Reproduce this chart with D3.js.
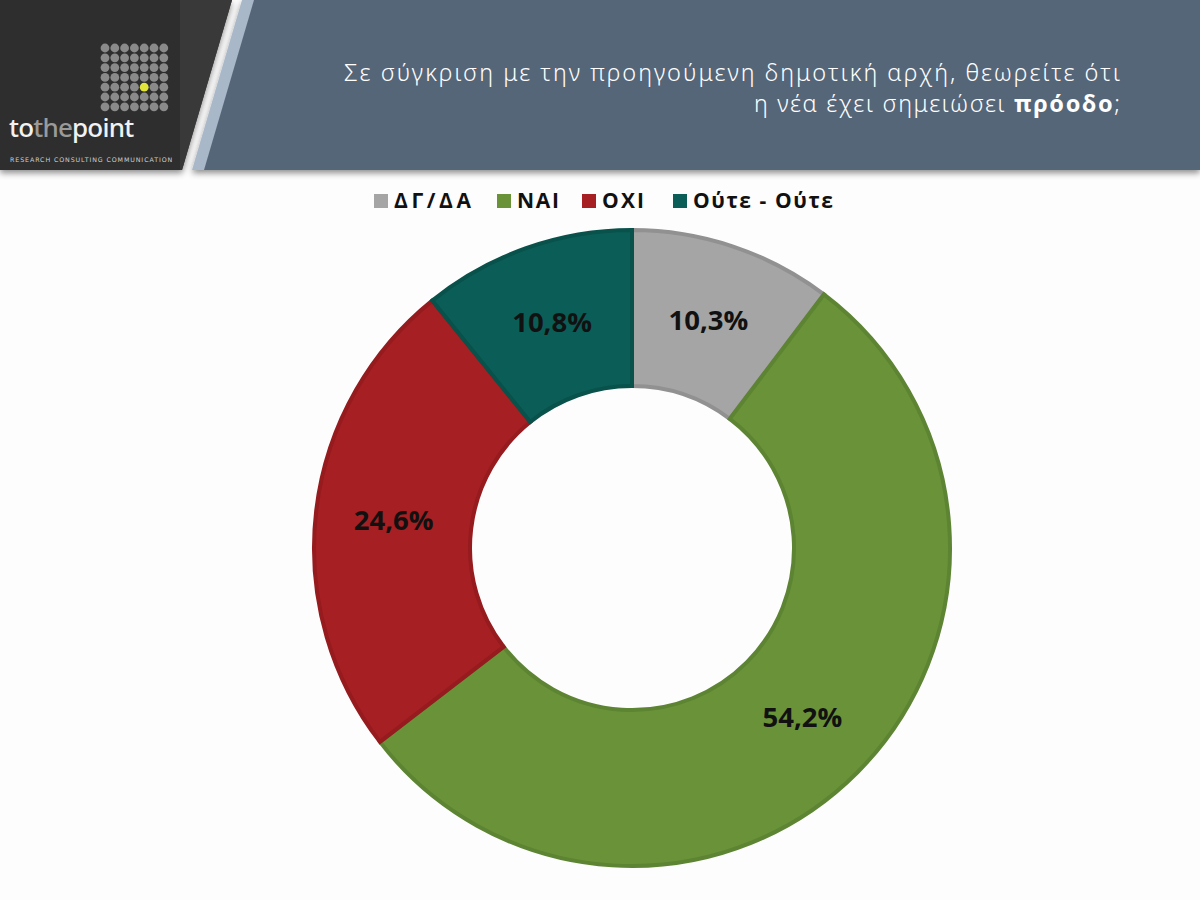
<!DOCTYPE html>
<html><head><meta charset="utf-8">
<script src="https://cdn.jsdelivr.net/npm/d3@7"></script>
<style>html,body{margin:0;padding:0;background:#fdfdfd;} svg{display:block;}</style>
</head><body>
<svg id="chart" width="1200" height="900"></svg>
<script>
const categories = ["ΔΓ/ΔΑ", "ΝΑΙ", "ΟΧΙ", "Ούτε - Ούτε"];
const values = [10.3, 54.2, 24.6, 10.8];
const labels = ["10,3%", "54,2%", "24,6%", "10,8%"];
const fills = ["#a5a5a5", "#6a9339", "#a61f22", "#0b5e57"];
const strokes = ["#919191", "#5d8432", "#951b1e", "#09514b"];
const titleLine1 = "Σε σύγκριση με την προηγούμενη δημοτική αρχή, θεωρείτε ότι";
const titleLine2a = "η νέα έχει σημειώσει ";
const titleLine2b = "πρόοδο";
const titleLine2c = ";";

const svg = d3.select("#chart");
svg.append("rect").attr("width",1200).attr("height",900).attr("fill","#fdfdfd");

const defs = svg.append("defs");
const f = defs.append("filter").attr("id","sh").attr("x","-10%").attr("y","-10%").attr("width","120%").attr("height","140%");
f.append("feDropShadow").attr("dx",0).attr("dy",3).attr("stdDeviation",3).attr("flood-color","#000").attr("flood-opacity",0.45);

// header
const hdr = svg.append("g");
hdr.append("polygon").attr("points","0,0 232,0 182,170 0,170").attr("fill","#2e2e2e").attr("filter","url(#sh)");
hdr.append("polygon").attr("points","180,0 232,0 182,170 180,170").attr("fill","#393939");
hdr.append("polygon").attr("points","242,0 1200,0 1200,170 192,170").attr("fill","#a9b8c8").attr("filter","url(#sh)");
hdr.append("polygon").attr("points","254,0 1200,0 1200,170 204,170").attr("fill","#566679");

// logo dots
const grid = d3.range(49);
hdr.selectAll("circle.dot").data(grid).join("circle")
  .attr("cx", i => 105 + (i%7)*9.8)
  .attr("cy", i => 48 + Math.floor(i/7)*9.8)
  .attr("r", 4.4)
  .attr("fill", i => (i===32) ? "#e1e43a" : "#8a8a8a");
const lt = hdr.append("text").attr("x",9).attr("y",137).attr("font-family","'Noto Sans', sans-serif").attr("font-size",26).attr("font-weight",500).attr("letter-spacing",-0.8);
lt.append("tspan").attr("fill","#f2f2f2").text("to");
lt.append("tspan").attr("fill","#9a9a9a").text("the");
lt.append("tspan").attr("fill","#f2f2f2").text("point");
hdr.append("text").attr("x",10).attr("y",162).attr("font-family","'DejaVu Sans', sans-serif").attr("font-size",6.3)
  .attr("letter-spacing",0.9).attr("fill","#d0d0d0").text("RESEARCH  CONSULTING  COMMUNICATION");

// title
const tf = "'Noto Sans', 'Open Sans', sans-serif";
hdr.append("text").attr("x",1120).attr("y",81).attr("text-anchor","end").attr("font-family",tf)
  .attr("font-size",23.5).attr("font-weight",300).attr("fill","#ffffff")
  .attr("textLength",776).attr("lengthAdjust","spacing").text(titleLine1);
const t2 = hdr.append("text").attr("x",1120).attr("y",112).attr("text-anchor","end").attr("font-family",tf)
  .attr("font-size",23.5).attr("font-weight",300).attr("fill","#ffffff")
  .attr("textLength",366).attr("lengthAdjust","spacing");
t2.append("tspan").text(titleLine2a);
t2.append("tspan").attr("font-weight",700).text(titleLine2b);
t2.append("tspan").text(titleLine2c);

// donut
const cx = 632, cy = 548, R = 320, r = 160;
const pie = d3.pie().sort(null).value(d => d.v);
const arc = d3.arc().innerRadius(r+2).outerRadius(R-2);
const data = categories.map((c,i) => ({c, v: values[i], l: labels[i], fill: fills[i], stroke: strokes[i]}));
const arcs = pie(data);
const g = svg.append("g").attr("transform",`translate(${cx},${cy})`);
g.selectAll("path").data(arcs).join("path")
  .attr("d", arc).attr("fill", d => d.data.fill)
  .attr("stroke", d => d.data.stroke).attr("stroke-width",4).attr("stroke-linejoin","miter");
const lab = d3.arc().innerRadius(r).outerRadius(R);
g.selectAll("text").data(arcs).join("text")
  .attr("transform", d => `translate(${lab.centroid(d)})`)
  .attr("text-anchor","middle").attr("dy","0.36em")
  .attr("font-family","'Open Sans', 'Noto Sans', sans-serif").attr("font-weight",700)
  .attr("font-size",27.5).attr("fill","#111").text(d => d.data.l);

// legend
const legX = [374, 497, 582, 673];
const legW = [77, 42, 42, 140];
const leg = svg.append("g");
data.forEach((d,i) => {
  leg.append("rect").attr("x",legX[i]).attr("y",194).attr("width",14).attr("height",14).attr("fill",d.fill);
  leg.append("text").attr("x",legX[i]+20).attr("y",208).attr("font-family","'Open Sans', 'Noto Sans', sans-serif")
    .attr("font-weight",700).attr("font-size",21).attr("fill","#111")
    .attr("textLength",legW[i]).attr("lengthAdjust","spacing").text(d.c);
});
</script>
</body></html>
